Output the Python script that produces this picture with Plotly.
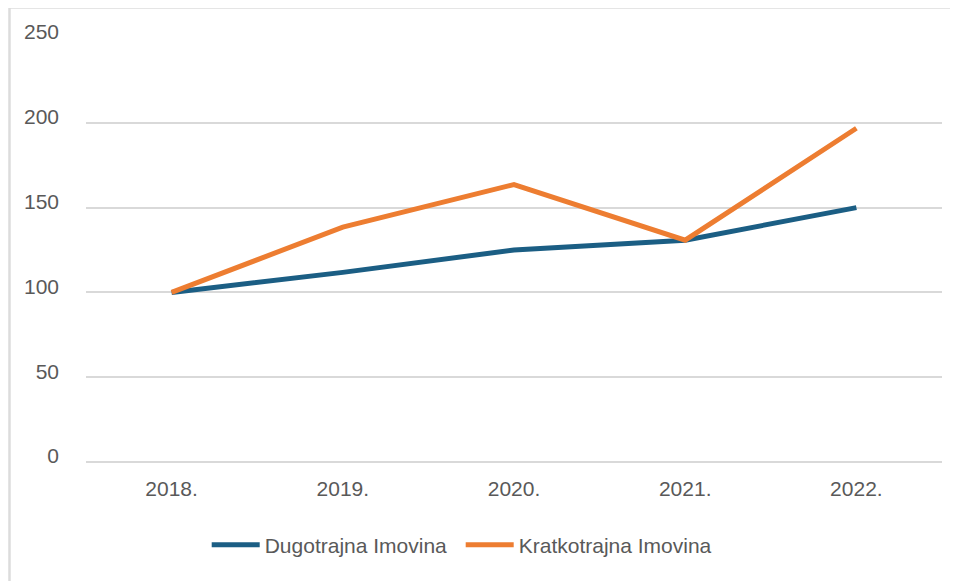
import plotly.graph_objects as go

# Indeksi imovine (2018. = 100)
godine = ["2018.", "2019.", "2020.", "2021.", "2022."]
dugotrajna = [100, 111.8, 125.0, 130.8, 150.0]
kratkotrajna = [100, 138.5, 163.6, 130.8, 196.8]

PLAVA = "#1b5e84"
NARANCASTA = "#ed7d31"
SIVA_TEKST = "#595959"
SIVA_MREZA = "#d9d9d9"
FONT = "Liberation Sans Narrow, Arial Narrow, Liberation Sans, sans-serif"

fig = go.Figure()

fig.add_trace(
    go.Scatter(
        x=godine,
        y=dugotrajna,
        mode="lines",
        name="Dugotrajna Imovina",
        line=dict(color=PLAVA, width=5),
    )
)
fig.add_trace(
    go.Scatter(
        x=godine,
        y=kratkotrajna,
        mode="lines",
        name="Kratkotrajna Imovina",
        line=dict(color=NARANCASTA, width=5),
    )
)

# okvir grafikona (gornji i lijevi rub)
okvir = dict(color="#dcdcdc", width=2.5)
fig.add_shape(type="line", xref="paper", yref="paper",
              x0=-0.0894, x1=1.05, y0=1.0719, y1=1.0719, line=okvir)
fig.add_shape(type="line", xref="paper", yref="paper",
              x0=-0.0894, x1=-0.0894, y0=1.0719, y1=-0.32, line=okvir)

fig.update_layout(
    width=950,
    height=573,
    margin=dict(l=78, r=16, t=30, b=119),
    plot_bgcolor="white",
    paper_bgcolor="white",
    font=dict(family=FONT, size=21, color=SIVA_TEKST),
    showlegend=True,
    legend=dict(
        orientation="h",
        x=0.141,
        xanchor="left",
        y=-0.196,
        yanchor="middle",
        font=dict(family=FONT, size=21, color=SIVA_TEKST),
        itemwidth=48,
        entrywidth=191,
        tracegroupgap=0,
    ),
    xaxis=dict(
        type="category",
        range=[-0.5, 4.5],
        showgrid=False,
        showline=False,
        zeroline=False,
        ticks="",
        ticklabelstandoff=12,
    ),
    yaxis=dict(
        range=[0, 250],
        dtick=50,
        showgrid=True,
        gridcolor=SIVA_MREZA,
        gridwidth=1.5,
        zeroline=True,
        zerolinecolor=SIVA_MREZA,
        zerolinewidth=1.5,
        showline=False,
        ticks="",
        ticklabelstandoff=26,
        ticklabelshift=-6,
    ),
)

fig.write_html("out.html")
